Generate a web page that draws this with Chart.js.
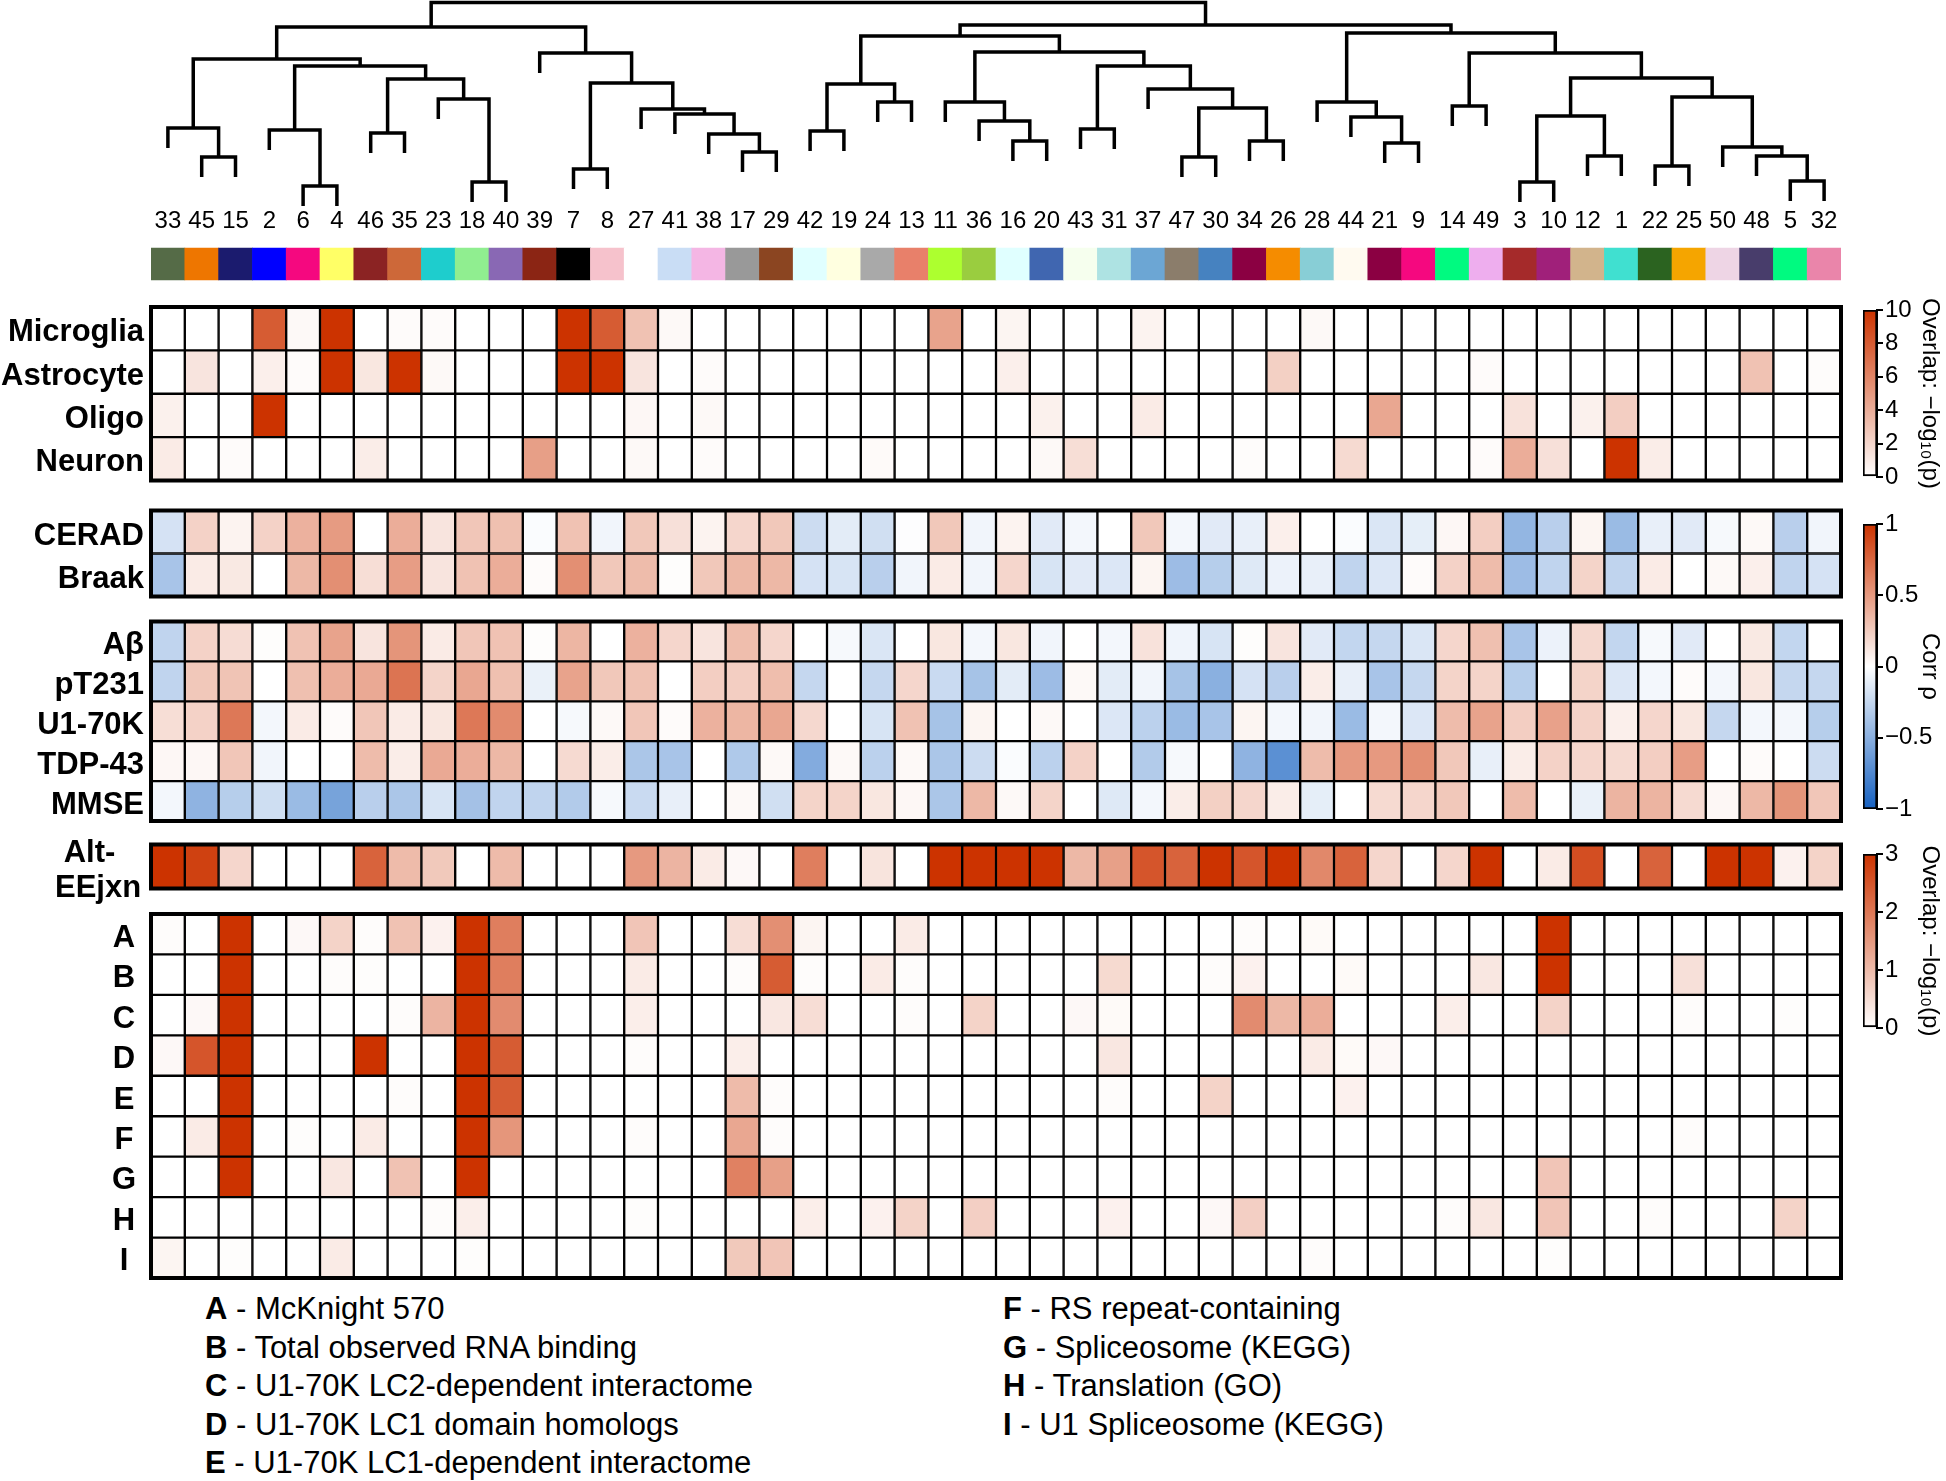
<!DOCTYPE html>
<html><head><meta charset="utf-8">
<script src="https://cdn.jsdelivr.net/npm/chart.js@4.4.1/dist/chart.umd.min.js"></script>
<style>
html,body{margin:0;padding:0;background:#fff;}
body{width:1946px;height:1481px;position:relative;overflow:hidden;font-family:"Liberation Sans",Arial,Helvetica,sans-serif;}
canvas{position:absolute;}
.lg{position:absolute;font-size:31px;line-height:38.5px;color:#000;white-space:nowrap;}
</style></head><body>
<div id="legend"></div>
<canvas id="dendro" width="1946" height="240" style="left:0;top:0"></canvas>
<canvas id="heat" width="1946" height="1165" style="left:0;top:180px"></canvas>
<canvas id="cb1" width="83" height="247" style="left:1863px;top:270px"></canvas>
<canvas id="cb2" width="83" height="365" style="left:1863px;top:484px"></canvas>
<canvas id="cb3" width="83" height="254" style="left:1863px;top:814px"></canvas>
<script>
// ---------------- DATA ----------------
const moduleOrder = ['33','45','15','2','6','4','46','35','23','18','40','39','7','8','27','41','38','17','29','42','19','24','13','11','36','16','20','43','31','37','47','30','34','26','28','44','21','9','14','49','3','10','12','1','22','25','50','48','5','32'];
const moduleColors = ['#556B47','#EE7600','#1B1B6E','#0000FF','#F5087F','#FFFF66','#8B2323','#CD6839','#1ECDCD','#90EE90','#8968B4','#8B2514','#000000','#F6C2CC','#FFFFFF','#C9DDF5','#F4B6E4','#999999','#8B4521','#E0FFFF','#FFFFE0','#A9A9A9','#E8806A','#ADFF2F','#9ACD3F','#E0FFFF','#4066B0','#F6FFEE','#AEE3E3','#6CA6D4','#8B7D6B','#4682C0','#8B0042','#F58C00','#88CED6','#FFFAF0','#8B0042','#F5087F','#00FA80','#EEAEEE','#A52A2A','#A0207A','#D2B48C','#40E0D0','#2B6320','#F5A500','#EED5E5','#483D6B','#00FA80','#EA85AA'];

// dendrogram merges: [childA, childB, height]; string = module leaf, number = earlier merge index
const dendroMerges = [
 ['45','15',49],['33',0,78],['6','4',20],['2',2,76],['46','35',73],['18','40',24],['23',5,107],[4,6,127],[3,7,140],[1,8,147],
 ['7','8',37],['17','29',54],['38',11,72],['41',12,92],['27',13,97],[10,14,123],['39',15,153],[9,16,179],
 ['42','19',75],['24','13',104],[18,19,122],['16','20',65],['36',21,85],['11',22,104],['43','31',77],['47','30',49],['34','26',65],[25,26,98],['37',27,117],[24,28,140],[23,29,154],[20,30,170],
 ['21','9',63],['44',32,89],['28',33,104],['14','49',100],['3','10',24],['12','1',50],[36,37,90],['22','25',40],['5','32',25],['48',40,50],['50',41,59],[39,42,109],[38,43,128],[35,44,153],[34,45,173],
 [31,46,181],[17,47,203.5]
];

// cell-type overlap, -log10(p), scale 0-10
const microglia = [0,0,0,8,0.3,10,0,0.2,0.2,0, 0,0,10,8,3,0.3,0,0,0,0, 0,0,0,4.5,0, 0.5,0,0,0,0.6, 0,0,0,0,0.3, 0,0,0,0,0, 0,0,0,0,0, 0,0,0,0,0];
const astrocyte = [0,1.3,0,0.8,0.2,10,1.2,10,0.3,0, 0,0,10,10,1.3,0,0.2,0,0,0, 0,0,0,0,0, 0.8,0,0,0,0, 0,0,0,2.3,0, 0,0,0,0,0.2, 0,0,0,0,0, 0,0,3,0,0.15];
const oligo = [0.7,0,0,10,0,0,0,0,0,0, 0,0,0,0,0.4,0,0.3,0,0,0, 0,0,0,0,0, 0,0.7,0,0,1.0, 0,0,0,0,0, 0,4.3,0,0,0, 1.4,0,0.7,2.4,0, 0,0,0,0,0];
const neuron = [1.0,0,0.2,0,0,0,0.9,0,0,0, 0,4.7,0,0,0.3,0,0.2,0,0,0, 0,0.25,0,0,0, 0,0.3,1.6,0,0, 0,0,0.15,0,0, 1.8,0,0,0,0.2, 4.0,1.5,0,10,0.9, 0,0,0,0,0];
// trait correlations (rho), -1..1
const cerad = [-0.18,0.22,0.06,0.22,0.38,0.49,0,0.4,0.13,0.28, 0.31,-0.02,0.3,-0.06,0.27,0.15,0.06,0.2,0.27,-0.22, -0.12,-0.2,-0.01,0.27,-0.06, 0.06,-0.13,-0.05,0,0.27, -0.05,-0.13,-0.1,0.08,0, -0.02,-0.16,-0.11,0.04,0.24, -0.46,-0.3,0.05,-0.43,-0.1, -0.13,-0.04,0.03,-0.3,-0.06];
const braak = [-0.37,0.1,0.11,0,0.35,0.55,0.16,0.48,0.13,0.3, 0.4,0.02,0.55,0.27,0.33,0.01,0.27,0.35,0.35,-0.18, -0.17,-0.3,-0.06,0.1,-0.06, 0.2,-0.17,-0.13,-0.15,0.05, -0.42,-0.31,-0.14,-0.08,-0.1, -0.27,-0.15,0.02,0.22,0.33, -0.42,-0.27,0.21,-0.27,0.1, 0,0.03,0.08,-0.27,-0.18];
const abeta = [-0.27,0.22,0.17,0.01,0.3,0.45,0.13,0.52,0.1,0.28, 0.3,0.01,0.36,0,0.38,0.2,0.13,0.32,0.2,0, -0.04,-0.16,0,0.12,-0.05, 0.12,-0.06,0,-0.05,0.14, -0.07,-0.17,0.01,0.13,-0.13, -0.26,-0.25,-0.16,0.2,0.31, -0.37,-0.08,0.19,-0.26,-0.04, -0.13,0,0.11,-0.26,0];
const pT231 = [-0.27,0.27,0.29,0,0.31,0.4,0.42,0.68,0.21,0.43, 0.31,-0.09,0.45,0.27,0.3,0,0.24,0.24,0.32,-0.25, 0,-0.25,0.2,-0.23,-0.38, -0.12,-0.42,0.03,-0.12,-0.06, -0.38,-0.5,-0.18,-0.3,0.09, -0.1,-0.37,-0.25,0.21,0.21, -0.31,0,0.21,-0.15,-0.05, 0.02,-0.05,0.12,-0.25,-0.25];
const u170k = [0.16,0.22,0.66,-0.05,0.1,0.02,0.28,0.1,0.12,0.66, 0.57,0,-0.04,0.03,0.28,0.02,0.38,0.36,0.43,0.19, 0,-0.17,0.3,-0.38,0.05, 0,0.03,0,-0.15,-0.29, -0.43,-0.37,0.05,-0.05,-0.06, -0.43,-0.05,-0.15,0.33,0.45, 0.24,0.46,0.22,0.08,0.2, 0.12,-0.25,-0.05,-0.05,-0.31];
const tdp43 = [0.04,0.04,0.28,-0.06,0,0,0.33,0.09,0.42,0.4, 0.35,0,0.18,0.09,-0.36,-0.37,0,-0.34,0.03,-0.53, 0.03,-0.29,0.03,-0.36,-0.22, -0.02,-0.29,0.22,0,-0.33, -0.04,0,-0.48,-0.7,0.33, 0.5,0.5,0.55,0.27,-0.1, 0.09,0.22,0.2,0.18,0.24, 0.48,0,0.02,0,-0.22];
const mmse = [-0.05,-0.48,-0.31,-0.21,-0.43,-0.58,-0.3,-0.36,-0.17,-0.39, -0.27,-0.27,-0.33,-0.04,-0.23,-0.1,0,0.03,-0.2,0.21, 0.21,0.12,0.04,-0.36,0.35, 0.03,0.21,0,-0.14,-0.05, 0.09,0.23,0.2,0.09,-0.11, 0,0.18,0.2,0.27,0, 0.33,0,-0.09,0.37,0.37, 0.18,0.04,0.35,0.52,0.28];
// overlap -log10(p), scale 0-3
const altEEjxn = [3,2.8,0.6,0,0,0,2.3,1.0,0.8,0, 1.0,0,0,0,1.5,1.1,0.3,0.1,0,1.9, 0,0.4,0,3,3, 3,3,1.05,1.4,2.5, 2.3,3,2.5,3,1.75, 2.3,0.6,0,0.6,3, 0,0.3,2.6,0,2.3, 0,3,3,0.2,0.65];
const setA = [0.05,0,3,0,0.1,0.65,0.05,0.9,0.2,3, 1.9,0,0,0,0.85,0,0,0.5,1.65,0.15, 0,0,0.3,0,0, 0,0,0,0,0, 0,0,0.05,0,0.08, 0,0,0,0,0, 0,3,0,0,0, 0,0,0,0,0];
const setB = [0,0,3,0,0,0.05,0.03,0,0,3, 1.9,0,0,0,0.3,0,0,0.05,2.4,0.05, 0,0.3,0.05,0,0, 0,0,0,0.55,0, 0,0.05,0.2,0,0, 0.08,0,0,0,0.35, 0,3,0,0,0, 0.45,0,0,0,0];
const setC = [0,0.1,3,0,0,0,0,0.05,1.1,3, 1.7,0,0,0,0.25,0,0,0,0.35,0.5, 0,0,0.05,0,0.65, 0,0,0.1,0.08,0, 0,0,1.7,1.05,1.2, 0,0,0,0.25,0, 0,0.65,0,0,0, 0.05,0,0,0.03,0];
const setD = [0.1,2.5,3,0,0,0,3,0,0,3, 2.4,0,0,0,0.05,0,0,0.25,0,0, 0,0,0,0,0, 0,0,0,0.35,0, 0,0,0,0,0.3, 0.08,0.1,0,0,0, 0,0,0,0,0, 0,0,0,0,0];
const setE = [0,0,3,0,0,0,0,0.05,0,3, 2.4,0,0,0,0,0,0,1.0,0.05,0, 0,0,0,0,0, 0,0,0,0.05,0, 0,0.65,0,0,0, 0.2,0,0,0,0, 0,0,0,0,0, 0,0,0,0,0];
const setF = [0,0.3,3,0,0.03,0,0.3,0,0,3, 1.55,0,0,0,0.05,0,0,1.3,0.05,0, 0,0,0,0,0, 0,0,0,0,0, 0,0,0,0,0, 0,0,0,0,0, 0,0,0,0,0, 0.05,0,0,0,0];
const setG = [0,0,3,0,0,0.35,0,0.9,0,3, 0,0,0,0,0,0,0,1.85,1.4,0, 0,0,0,0,0, 0,0,0,0,0, 0,0,0,0,0, 0,0,0,0,0, 0,0.85,0,0,0, 0,0,0,0,0];
const setH = [0,0,0,0,0,0,0,0,0.05,0.25, 0,0,0,0,0.03,0,0,0,0,0.25, 0,0.2,0.65,0,0.7, 0,0,0,0.2,0, 0,0.1,0.7,0,0, 0,0,0,0.05,0.35, 0,0.85,0,0,0.05, 0,0,0,0.65,0];
const setI = [0.15,0,0.03,0,0,0.3,0,0,0,0.03, 0,0,0,0,0,0,0,0.8,0.85,0, 0,0,0,0,0, 0,0,0,0,0, 0,0,0,0,0.05, 0,0,0,0,0, 0,0.03,0,0,0, 0,0,0,0,0];

const setLetters = ['A','B','C','D','E','F','G','H','I'];
const setNames = ['McKnight 570','Total observed RNA binding','U1-70K LC2-dependent interactome','U1-70K LC1 domain homologs','U1-70K LC1-dependent interactome','RS repeat-containing','Spliceosome (KEGG)','Translation (GO)','U1 Spliceosome (KEGG)'];
const cellTicks = [0,2,4,6,8,10];
const corrTicks = [-1,-0.5,0,0.5,1];
const setTicks = [0,1,2,3];

// ---------------- STYLE / LAYOUT ----------------
Chart.defaults.font.family = '"Liberation Sans", Arial, Helvetica, sans-serif';
Chart.defaults.color = '#000';
Chart.defaults.animation = false;
Chart.defaults.events = [];
Chart.defaults.plugins.legend.display = false;
Chart.defaults.plugins.tooltip.enabled = false;

const WHITE=[255,255,255], RED=[204,51,0], BLUE=[21,96,192];
const hex = c => '#'+c.map(v=>Math.round(v).toString(16).padStart(2,'0')).join('');
const mix = (a,b,t) => hex(a.map((v,i)=>v+(b[i]-v)*t));
const overlapColor = max => v => mix(WHITE,RED,Math.max(0,Math.min(1,v/max)));
const corrColor = v => v>=0 ? mix(WHITE,RED,Math.min(1,v)) : mix(WHITE,BLUE,Math.min(1,-v));
const fmt = v => v<0 ? '\u2212'+Math.abs(v) : String(v);

const BLOCKS = [
  {top:307, bottom:480.5, rows:[['Microglia',microglia,overlapColor(10)],['Astrocyte',astrocyte,overlapColor(10)],['Oligo',oligo,overlapColor(10)],['Neuron',neuron,overlapColor(10)]], axis:'y'},
  {top:510.5, bottom:596.5, rows:[['CERAD',cerad,corrColor],['Braak',braak,corrColor]], axis:'y'},
  {top:621.5, bottom:821, rows:[['A\u03b2',abeta,corrColor],['pT231',pT231,corrColor],['U1-70K',u170k,corrColor],['TDP-43',tdp43,corrColor],['MMSE',mmse,corrColor]], axis:'y'},
  {top:844.5, bottom:888.5, rows:[[['Alt-  ','EEjxn'],altEEjxn,overlapColor(3)]], axis:'yAlt'},
  {top:914, bottom:1278, rows:[setA,setB,setC,setD,setE,setF,setG,setH,setI].map((v,i)=>[setLetters[i],v,overlapColor(3)]), axis:'yLet'}
];
const STRIP = [248,280];
const LABEL_SHIFT = 4;

// ---------------- DENDROGRAM ----------------
const LEAF_HANG = 20;
const leafX = {}; moduleOrder.forEach((m,i)=>leafX[m]=i+0.5);
const nodeX=[], nodeH=[];
const dendroSets = dendroMerges.map(([a,b,h],k)=>{
  const xa = typeof a==='string'?leafX[a]:nodeX[a], ya = typeof a==='string'?h-LEAF_HANG:nodeH[a];
  const xb = typeof b==='string'?leafX[b]:nodeX[b], yb = typeof b==='string'?h-LEAF_HANG:nodeH[b];
  nodeX[k]=(xa+xb)/2; nodeH[k]=h;
  return {data:[{x:xa,y:ya},{x:xa,y:h},{x:xb,y:h},{x:xb,y:yb}], borderColor:'#000', borderWidth:3.5,
    pointRadius:0, fill:false, tension:0, xAxisID:'xl', yAxisID:'y', clip:false, borderJoinStyle:'miter', borderCapStyle:'butt'};
});
new Chart(document.getElementById('dendro'), {
  type:'line',
  data:{labels:moduleOrder, datasets:dendroSets},
  options:{responsive:false, layout:{padding:{left:151,right:105,top:0,bottom:0}},
    scales:{
      x:{type:'category', position:'bottom', offset:true, grid:{display:false,drawTicks:false}, border:{display:false},
         ticks:{font:{size:24}, color:'#000', padding:1, autoSkip:false, maxRotation:0, minRotation:0},
         afterFit:s=>{s.height=34;}},
      xl:{type:'linear', min:0, max:50, offset:false, display:false},
      y:{type:'linear', min:0, max:206, display:false}
    }}
});

// ---------------- HEATMAP ----------------
const heatSets = [];
const ticksBy = {y:[], yLet:[], yAlt:[]};
heatSets.push({type:'bar', data:moduleOrder.map(()=>STRIP.slice()), backgroundColor:moduleColors, borderWidth:0,
  grouped:false, barPercentage:1, categoryPercentage:1, xAxisID:'x', yAxisID:'y'});
BLOCKS.forEach(b=>{
  const h=(b.bottom-b.top)/b.rows.length;
  b.rows.forEach(([label,vals,cf],r)=>{
    const t=b.top+r*h, bt=t+h;
    ticksBy[b.axis].push({value:(t+bt)/2+LABEL_SHIFT, label});
    heatSets.push({type:'bar', data:vals.map(()=>[t,bt]), backgroundColor:vals.map(cf), borderColor:'#000', borderWidth:1.5,
      borderSkipped:false, grouped:false, barPercentage:1, categoryPercentage:1, xAxisID:'x', yAxisID:'y', order:0});
  });
  heatSets.push({type:'line', data:[{x:0,y:b.top},{x:50,y:b.top},{x:50,y:b.bottom},{x:0,y:b.bottom},{x:0,y:b.top}],
    borderColor:'#000', borderWidth:4, pointRadius:0, fill:false, tension:0, xAxisID:'xl', yAxisID:'y', clip:false,
    borderJoinStyle:'miter', borderCapStyle:'square', order:-1});
});
// main labels right-aligned beside the grid; letter and Alt labels are centred (mirrored axes, pulled left)
function yAxis(id, weight, width, padding, crossAlign, mirror, lineHeight){
  return {type:'linear', position:'left', weight, min:240, max:1285, reverse:true,
    grid:{display:false, drawTicks:false}, border:{display:false},
    afterBuildTicks:s=>{s.ticks=ticksBy[id].map(t=>({value:t.value}));},
    afterFit:s=>{s.width=width;},
    ticks:{autoSkip:false, padding, crossAlign, mirror, color:'#000', font:{size:31, weight:'bold', lineHeight},
      callback:(v,i)=>ticksBy[id][i].label}};
}
new Chart(document.getElementById('heat'), {
  type:'bar',
  data:{labels:moduleOrder, datasets:heatSets},
  options:{responsive:false, layout:{padding:{left:0,right:105,top:60,bottom:60}},
    scales:{
      x:{type:'category', offset:true, display:false},
      xl:{type:'linear', min:0, max:50, offset:false, display:false},
      y:yAxis('y',1,151,7,'near',false,1.2),
      yLet:yAxis('yLet',0,0,-39,'center',true,1.2),
      yAlt:yAxis('yAlt',0,0,-96,'center',true,1.13)
    }}
});

// ---------------- COLOR BARS ----------------
function colorbar(id, ticks, stops, title){
  new Chart(document.getElementById(id), {
    type:'bar',
    data:{labels:[''], datasets:[{data:[[ticks[0],ticks[ticks.length-1]]],
      backgroundColor:ctx=>{const a=ctx.chart.chartArea; if(!a) return '#fff';
        const g=ctx.chart.ctx.createLinearGradient(0,a.bottom,0,a.top); stops.forEach(([o,c])=>g.addColorStop(o,c)); return g;},
      borderColor:'#000', borderWidth:2, borderSkipped:false, barPercentage:1, categoryPercentage:1}]},
    options:{responsive:false, layout:{padding:{top:40,bottom:40,left:0,right:0}},
      scales:{
        x:{type:'category', offset:true, display:false},
        y:{position:'right', min:ticks[0], max:ticks[ticks.length-1],
          afterBuildTicks:s=>{s.ticks=ticks.map(v=>({value:v}));},
          grid:{drawOnChartArea:false, drawTicks:true, tickLength:6, color:'#000', lineWidth:2},
          border:{display:true, color:'#000', width:2},
          ticks:{font:{size:24}, color:'#000', padding:2, autoSkip:false, callback:v=>fmt(v)},
          title:{display:true, text:title, font:{size:24}, color:'#000', padding:{top:2,bottom:0}},
          afterFit:s=>{s.width=69;}}
      }}
  });
}
colorbar('cb1', cellTicks, [[0,hex(WHITE)],[1,hex(RED)]], 'Overlap: \u2212log\u2081\u2080(p)');
colorbar('cb2', corrTicks, [[0,hex(BLUE)],[0.5,hex(WHITE)],[1,hex(RED)]], 'Corr \u03c1');
colorbar('cb3', setTicks, [[0,hex(WHITE)],[1,hex(RED)]], 'Overlap: \u2212log\u2081\u2080(p)');

// ---------------- LEGEND TEXT ----------------
const legend = document.getElementById('legend');
setLetters.forEach((L,i)=>{
  const d=document.createElement('div'); d.className='lg';
  const col = i<5?0:1, row = i<5?i:i-5;
  d.style.left=(col?1003:205)+'px'; d.style.top=(1290+row*38.5)+'px';
  const b=document.createElement('b'); b.textContent=L; d.appendChild(b);
  d.appendChild(document.createTextNode(' - '+setNames[i]));
  legend.appendChild(d);
});
</script>
</body></html>
